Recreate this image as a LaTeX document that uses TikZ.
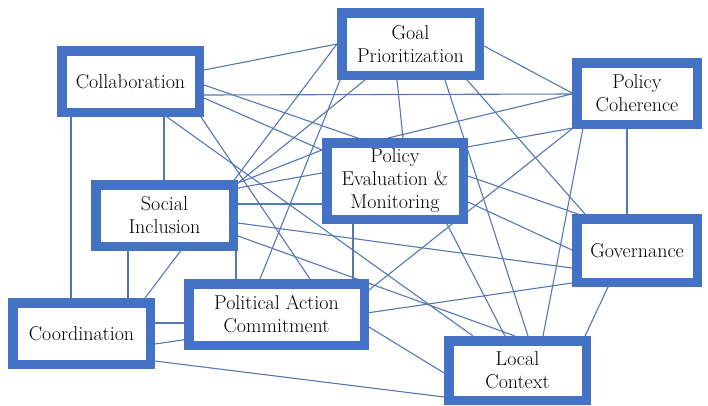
\documentclass[tikz,border=0pt]{standalone}
\usetikzlibrary{backgrounds}
\definecolor{framebl}{HTML}{4472C4}
\definecolor{linkbl}{HTML}{5478B4}
\begin{document}
\begin{tikzpicture}[x=1pt,y=-1pt,
  concept/.style={draw=framebl, line width=9.5pt, fill=white, align=center,
    inner sep=0pt, font=\fontsize{20}{23}\selectfont, text=black},
  link/.style={draw=linkbl, line width=1.1pt}]
\useasboundingbox (0,0) rectangle (708,405);

% concept boxes: sizes are the outer frame minus the frame width
\node[concept, minimum width=137.5pt, minimum height=61.5pt] (C)  at (130.5,81.5)  {Collaboration};
\node[concept, minimum width=137.5pt, minimum height=62.5pt] (G)  at (410.5,44)    {Goal\\Prioritization};
\node[concept, minimum width=120.5pt, minimum height=61.5pt] (PC) at (637,93.5)    {Policy\\Coherence};
\node[concept, minimum width=136.5pt, minimum height=76.5pt] (EV) at (395,181)     {Policy\\Evaluation \&\\Monitoring};
\node[concept, minimum width=137.5pt, minimum height=61.5pt] (SI) at (164.5,215.5) {Social\\Inclusion};
\node[concept, minimum width=120.5pt, minimum height=63.5pt] (GV) at (637,250.5)   {Governance};
\node[concept, minimum width=175.5pt, minimum height=61.5pt] (PA) at (276.5,314.5) {Political Action\\Commitment};
\node[concept, minimum width=137.5pt, minimum height=61.5pt] (CO) at (81.5,333.5)  {Coordination};
\node[concept, minimum width=137.5pt, minimum height=59.5pt] (LC) at (517.5,370.5) {Local\\Context};

% links between concepts, drawn beneath the boxes
\begin{scope}[on background layer]
\foreach \a/\ax/\ay/\b/\bx/\by in {
  C/73.5/-11.5/G/-73.5/0,
  C/73.5/13.5/PC/-65/0.5,
  C/73.5/16.5/EV/-73/-31,
  C/73.5/3.5/GV/-59/-36.5,
  C/33.5/35.5/SI/-0.5/-35.5,
  C/-59.5/35.5/CO/-10.5/-35.5,
  C/70.5/35.5/PA/33.5/-35.5,
  C/36.5/35.5/LC/-44.5/-34.5,
  G/73.5/2/PC/-65/-0.5,
  G/-13.5/36/EV/8/-43,
  G/-70.5/36/PA/-16.5/-35.5,
  G/-73.5/0/CO/63.5/-35.5,
  G/-45.5/36/SI/73.5/-32.5,
  G/34.5/36/LC/10.5/-34.5,
  G/56.5/36/GV/-52/-36.5,
  PC/-65/0.5/EV/-7/-43,
  SI/73.5/-27.5/PC/-64/34.5,
  PC/-64/34.5/PA/92.5/-24.5,
  PC/-54/34.5/LC/25.5/-34.5,
  PC/-10/35.5/GV/-10/-36.5,
  EV/73/21/GV/-65/-0.5,
  EV/52/43/LC/-12.5/-34.5,
  EV/-42/43/PA/76.5/-35.5,
  SI/73.5/-11.5/EV/-73/23,
  SI/73.5/-32.5/EV/-73/-31,
  SI/73.5/7.5/GV/-65/17.5,
  SI/73.5/20.5/LC/-2.5/-34.5,
  SI/71.5/35.5/PA/-40.5/-35.5,
  SI/-36.5/35.5/CO/46.5/-35.5,
  CO/73.5/-10.5/PA/-92.5/8.5,
  CO/73.5/10.5/GV/-65/32.5,
  CO/73.5/27.5/LC/-73.5/26.5,
  PA/92.5/12.5/LC/-73.5/2.5,
  GV/-29/36.5/LC/67.5/-34.5}
  \draw[link] ([shift={(\ax,\ay)}]\a.center) -- ([shift={(\bx,\by)}]\b.center);
\end{scope}
\end{tikzpicture}
\end{document}
